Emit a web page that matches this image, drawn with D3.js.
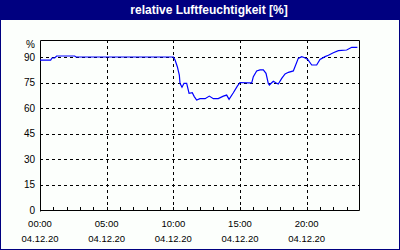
<!DOCTYPE html>
<html>
<head>
<script src="https://cdnjs.cloudflare.com/ajax/libs/d3/7.8.5/d3.min.js"></script>
<style>
  body { margin: 0; background: #fcfffc; }
  text { font-family: "Liberation Sans", Arial, sans-serif; }
</style>
</head>
<body>
<div id="chart"></div>
<script>
const title = "relative Luftfeuchtigkeit [%]";
const unit = "%";
const dateLabel = "04.12.20";
// hours since 00:00 and humidity in %
const hours = [0, 0.8, 0.9, 1.1, 1.25, 2.6, 2.7, 10.0, 10.13, 10.3, 10.45, 10.5, 10.65, 10.8, 11.0,
  11.18, 11.42, 11.57, 11.75, 12.0, 12.38, 12.7, 13.0, 13.37, 13.75, 14.0, 14.18, 14.5, 14.8, 15.0,
  15.6, 15.88, 16.0, 16.25, 16.5, 16.75, 16.95, 17.12, 17.2, 17.5, 17.68, 17.87, 18.13, 18.38, 18.63,
  19.0, 19.37, 19.63, 19.85, 20.08, 20.38, 20.75, 21.0, 21.38, 21.63, 22.0, 22.38, 23.0, 23.38, 23.8];
const humidity = [88.2, 88.2, 89.4, 89.4, 90.6, 90.6, 90, 90, 88.2, 84.3, 79.4, 74.5, 72.2, 74.5, 74.5,
  68.6, 69, 66.7, 64.7, 65.5, 65.5, 67, 65.5, 65.5, 67, 67.6, 65.1, 69, 72.9, 75,
  74.8, 74.8, 78.4, 81.8, 82.4, 82.4, 80.4, 74.5, 73.5, 75.7, 74.9, 74.1, 77.4, 80, 81,
  81.8, 89.2, 90.2, 89.6, 88.6, 85.3, 85.3, 88.6, 90.2, 91, 92.5, 93.7, 94.1, 95.7, 95.7];
const yTicks = [0, 15, 30, 45, 60, 75, 90];
const xTicks = [0, 5, 10, 15, 20];
const xTickLabels = ["00:00", "05:00", "10:00", "15:00", "20:00"];

const W = 400, H = 250;
const svg = d3.select("#chart").append("svg").attr("width", W).attr("height", H);

// frame and title bar
svg.append("rect").attr("x", 0.5).attr("y", 0.5).attr("width", W - 1).attr("height", H - 1)
  .attr("fill", "#fcfffc").attr("stroke", "#000080");
svg.append("rect").attr("x", 0).attr("y", 0).attr("width", W).attr("height", 20).attr("fill", "#000080");
svg.append("text").attr("x", 209).attr("y", 14).attr("text-anchor", "middle")
  .attr("fill", "#fff").attr("font-weight", "bold").attr("font-size", 12).text(title);

const x = d3.scaleLinear().domain([0, 24]).range([40, 360]);
const y = d3.scaleLinear().domain([0, 100]).range([210, 40]);

// grid
svg.append("g").selectAll("line").data(yTicks.filter(d => d > 0)).enter().append("line")
  .attr("x1", 40).attr("x2", 360)
  .attr("y1", d => Math.round(y(d)) + 0.5).attr("y2", d => Math.round(y(d)) + 0.5)
  .attr("stroke", "#000").attr("stroke-dasharray", "3,3");
svg.append("g").selectAll("line").data(xTicks.filter(d => d > 0)).enter().append("line")
  .attr("y1", 40).attr("y2", 210)
  .attr("x1", d => Math.round(x(d)) + 0.5).attr("x2", d => Math.round(x(d)) + 0.5)
  .attr("stroke", "#000").attr("stroke-dasharray", "3,3");

// minor ticks every hour
svg.append("g").selectAll("line").data(d3.range(1, 24)).enter().append("line")
  .attr("x1", d => Math.round(x(d)) + 0.5).attr("x2", d => Math.round(x(d)) + 0.5)
  .attr("y1", 207).attr("y2", 210).attr("stroke", "#000");

// plot border
svg.append("path")
  .attr("d", "M40.5,211.5V40.5H359.5V210.5H40")
  .attr("fill", "none").attr("stroke", "#000").attr("stroke-width", 1);

// y labels
svg.append("g").selectAll("text").data(yTicks).enter().append("text")
  .attr("x", 35).attr("y", d => y(d) + 3.5).attr("text-anchor", "end")
  .attr("font-size", 10).attr("fill", "#000").text(d => d);
svg.append("text").attr("x", 35).attr("y", 48).attr("text-anchor", "end")
  .attr("font-size", 10).attr("fill", "#000").text(unit);

// x labels
const xl = svg.append("g").selectAll("g").data(xTicks).enter().append("g");
xl.append("text").attr("x", d => x(d)).attr("y", 227).attr("text-anchor", "middle")
  .attr("font-size", 9.5).attr("fill", "#000").text((d, i) => xTickLabels[i]);
xl.append("text").attr("x", d => x(d)).attr("y", 242).attr("text-anchor", "middle")
  .attr("font-size", 9.5).attr("fill", "#000").text(dateLabel);

// humidity line
const line = d3.line().x(d => x(d[0])).y(d => y(d[1]));
svg.append("path").datum(d3.zip(hours, humidity))
  .attr("d", line).attr("fill", "none").attr("stroke", "#0000ff").attr("stroke-width", 1.2);
</script>
</body>
</html>
